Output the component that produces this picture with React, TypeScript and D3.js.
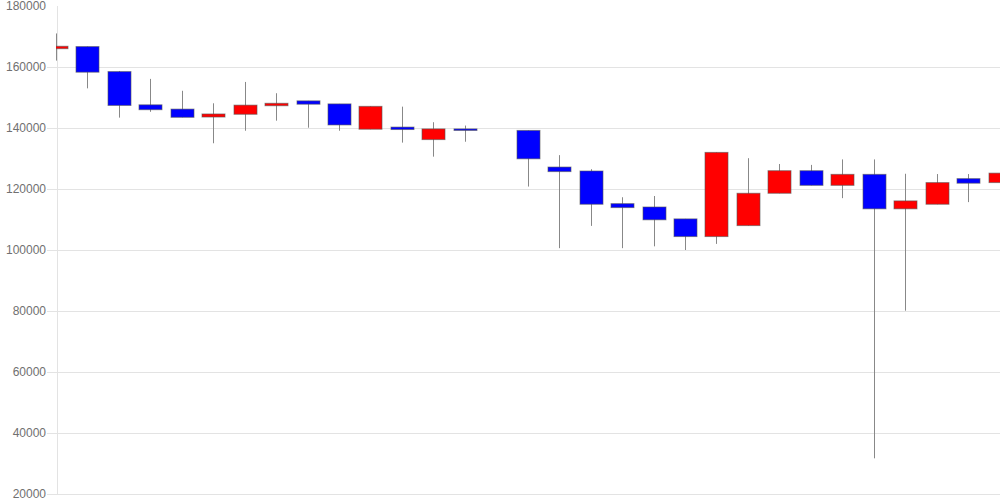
import React from "react";
import * as d3 from "d3";

const opens: (number | null)[] = [166000, 166700, 158500, 147600, 146200, 143600, 144500, 147300, 148900, 147900, 139600, 140300, 136200, 139700, null, 139200, 127200, 125900, 115200, 114100, 110200, 104400, 108000, 118600, 126000, 121200, 124800, 113500, 115000, 123400, 122100];
const closes: (number | null)[] = [166800, 158300, 147400, 146000, 143500, 144600, 147500, 148100, 147800, 141000, 147100, 139500, 139700, 139200, null, 129900, 125700, 115000, 113900, 109900, 104400, 132000, 118600, 126000, 121200, 124800, 113500, 116100, 122100, 121900, 125200];
const highs: (number | null)[] = [171000, 166700, 158700, 156100, 152200, 148100, 155100, 151400, 148900, 147900, 147100, 147000, 141900, 140800, null, 139200, 131100, 126500, 117300, 117700, 110200, 132000, 130100, 128200, 127900, 129700, 129700, 125000, 124900, 124900, 125200];
const lows: (number | null)[] = [162100, 153000, 143400, 145300, 143500, 135000, 139100, 142400, 140100, 139100, 139600, 135200, 130600, 135500, null, 120800, 100600, 107900, 100600, 101200, 100000, 102000, 108000, 118600, 121200, 117000, 31700, 80100, 115000, 115700, 118300];
const yTicks: number[] = [20000, 40000, 60000, 80000, 100000, 120000, 140000, 160000, 180000];

export default function App() {
  const W = 1000, H = 500;
  const left = 57, right = 1000, top = 6, bottom = 494;
  const y = d3.scaleLinear().domain([20000, 180000]).range([bottom, top]);
  const x = d3.scaleLinear().domain([0, opens.length - 1]).range([56, 999.5]);
  const bw = 23;
  return (
    <svg width={W} height={H} style={{ position: "absolute", left: 0, top: 0, background: "#fff" }}
      fontFamily="Arial, 'Liberation Sans', sans-serif">
      <defs>
        <clipPath id="plot">
          <rect x={56} y={0} width={right - 56} height={bottom} />
        </clipPath>
      </defs>
      {yTicks.filter(t => t < 180000).map(t => (
        <line key={t} x1={47} x2={right} y1={Math.round(y(t)) + 0.5} y2={Math.round(y(t)) + 0.5} stroke="#e3e3e3" strokeWidth={1} />
      ))}
      <line x1={left + 0.5} x2={left + 0.5} y1={top} y2={bottom} stroke="#e3e3e3" strokeWidth={1} />
      {yTicks.map(t => (
        <text key={t} x={46} y={y(t)} textAnchor="end" dominantBaseline="central" fontSize={12} fill="#707070">{t}</text>
      ))}
      <g clipPath="url(#plot)">
        {opens.map((o, i) => {
          const c = closes[i], h = highs[i], l = lows[i];
          if (o == null || c == null || h == null || l == null) return null;
          const cx = Math.round(x(i)) + 0.5;
          const up = c >= o;
          const yt = y(Math.max(o, c)), yb = y(Math.min(o, c));
          return (
            <g key={i}>
              <line x1={cx} x2={cx} y1={y(h)} y2={y(l)} stroke="#888" strokeWidth={1} />
              <rect x={cx - bw / 2} y={yt} width={bw} height={Math.max(yb - yt, 1)}
                fill={up ? "#ff0000" : "#0000ff"} stroke="#555" strokeOpacity={0.6} strokeWidth={1} />
            </g>
          );
        })}
      </g>
    </svg>
  );
}
